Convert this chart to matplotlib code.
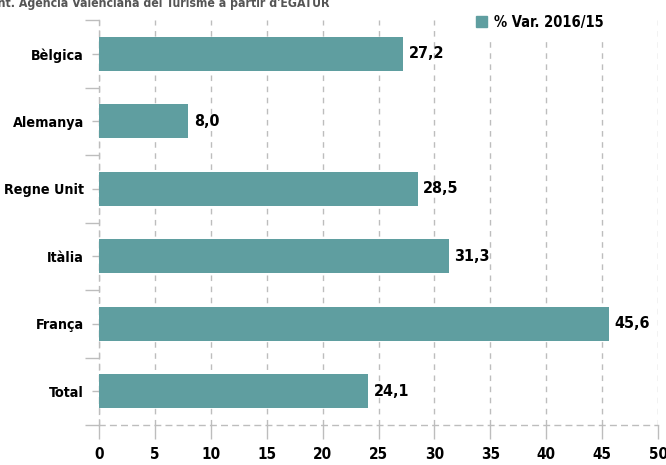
#!/usr/bin/env python3
import matplotlib
matplotlib.use("Agg")
import matplotlib.pyplot as plt
from matplotlib.ticker import FixedLocator
from matplotlib.patches import Patch

# dades (de baix a dalt)
categories = ["Total", "França", "Itàlia", "Regne Unit", "Alemanya", "Bèlgica"]
var_2016_15 = [24.1, 45.6, 31.3, 28.5, 8.0, 27.2]
series_name = "% Var. 2016/15"
source_text = "Font. Agència Valenciana del Turisme a partir d'EGATUR"
x_ticks = [0, 5, 10, 15, 20, 25, 30, 35, 40, 45, 50]

BAR = "#5F9EA0"
GRID = "#bdbdbd"

plt.rcParams["font.family"] = ["Liberation Sans Narrow", "DejaVu Sans"]
plt.rcParams["font.weight"] = "bold"
plt.rcParams["font.stretch"] = "condensed"

fig = plt.figure(figsize=(6.66, 4.65), dpi=100)
ax = fig.add_axes([99/666, 40/465, (658-99)/666, (425-20)/465])

ypos = list(range(len(categories)))
ax.barh(ypos, var_2016_15, height=0.5, color=BAR, zorder=3)
for y, v in zip(ypos, var_2016_15):
    ax.annotate(f"{v:.1f}".replace(".", ","), (v, y), xytext=(4, 0),
                textcoords="offset points", va="center", ha="left",
                fontsize=11.5, fontweight="bold", color="black")

ax.set_xlim(0, 50)
ax.set_ylim(-0.5, len(categories) - 0.5)
ax.set_xticks(x_ticks)
ax.set_xticklabels([str(t) for t in x_ticks], fontsize=11, fontweight="bold")
ax.set_yticks(ypos)
ax.set_yticklabels(categories, fontsize=10.3, fontweight="bold")
ax.yaxis.set_minor_locator(FixedLocator([y - 0.5 for y in ypos] + [len(categories) - 0.5]))

ax.grid(axis="x", color=GRID, linestyle=(0, (4, 4)), linewidth=1, zorder=0)
ax.tick_params(axis="x", length=10, color=GRID, pad=6, width=1)
ax.tick_params(axis="y", which="major", length=5, color=GRID, pad=6, width=1)
ax.tick_params(axis="y", which="minor", length=10, color=GRID, width=1)

for s in ("top", "right"):
    ax.spines[s].set_visible(False)
for s in ("left", "bottom"):
    ax.spines[s].set_color(GRID)
    ax.spines[s].set_linestyle((0, (4, 4)))
    ax.spines[s].set_linewidth(1)

leg = ax.legend(handles=[Patch(color=BAR, label=series_name)],
                loc="center", bbox_to_anchor=(540/666, 443/465),
                bbox_transform=fig.transFigure, frameon=True,
                fontsize=10.5, handlelength=0.75, handleheight=0.75,
                handletextpad=0.5, borderpad=0.7)
leg.get_frame().set_edgecolor("none")
leg.get_frame().set_facecolor("white")
leg.get_frame().set_alpha(1)
leg.set_zorder(5)

# font tallada a la part de dalt
fig.text(-17/666, (465 - 7)/465, source_text, ha="left", va="baseline",
         fontsize=8.8, fontweight="bold", color="#555555")

fig.savefig("out.png", dpi=100)
